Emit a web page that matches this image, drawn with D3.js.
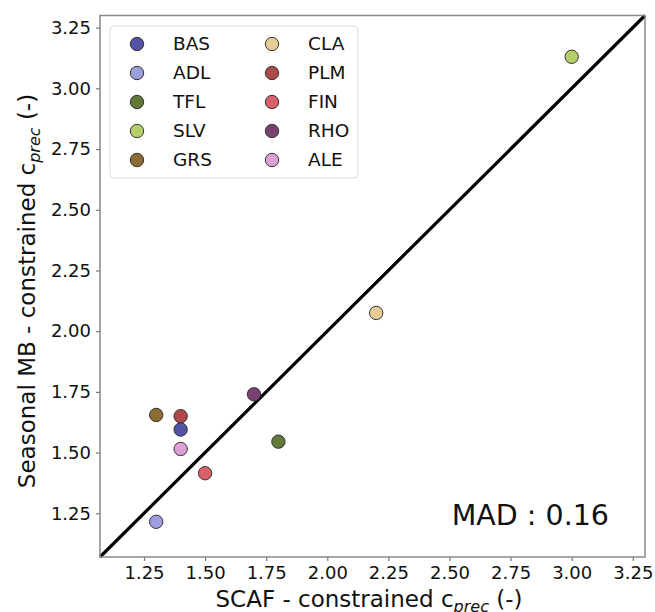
<!DOCTYPE html>
<html>
<head>
<meta charset="utf-8">
<script src="https://cdn.jsdelivr.net/npm/d3@7"></script>
<style>
  body { margin: 0; background: #fff; }
  svg { font-family: "DejaVu Sans", sans-serif; }
</style>
</head>
<body>
<svg id="chart" width="655" height="612"></svg>
<script>
const sites = ["BAS", "ADL", "TFL", "SLV", "GRS", "CLA", "PLM", "FIN", "RHO", "ALE"];
const scafValues = [1.40, 1.30, 1.80, 3.00, 1.30, 2.20, 1.40, 1.50, 1.70, 1.40];
const mbValues = [1.595, 1.215, 1.545, 3.13, 1.655, 2.075, 1.65, 1.415, 1.74, 1.515];
const siteColors = ["#5254a3", "#9c9ede", "#637939", "#b5cf6b", "#8c6d31",
                    "#e7cb94", "#ad494a", "#d6616b", "#7b4173", "#de9ed6"];
const tickValues = [1.25, 1.50, 1.75, 2.00, 2.25, 2.50, 2.75, 3.00, 3.25];
const domain = [1.07, 3.30];
const madText = "MAD : 0.16";

const margin = { top: 15.5, right: 10, bottom: 55, left: 100 };
const width = 655, height = 612;
const svg = d3.select("#chart");

const x = d3.scaleLinear().domain(domain).range([margin.left, width - margin.right]);
const y = d3.scaleLinear().domain(domain).range([height - margin.bottom, margin.top]);

// 1:1 line
svg.append("line")
  .attr("x1", x(domain[0])).attr("y1", y(domain[0]))
  .attr("x2", x(domain[1])).attr("y2", y(domain[1]))
  .attr("stroke", "#000").attr("stroke-width", 3.2);

// points
svg.append("g").selectAll("circle")
  .data(sites)
  .join("circle")
  .attr("cx", (d, i) => x(scafValues[i]))
  .attr("cy", (d, i) => y(mbValues[i]))
  .attr("r", 6.7)
  .attr("fill", (d, i) => siteColors[i])
  .attr("stroke", "#333")
  .attr("stroke-width", 1);

// axes
const xAxis = svg.append("g")
  .attr("transform", `translate(0, ${height - margin.bottom})`)
  .call(d3.axisBottom(x).tickValues(tickValues).tickFormat(d3.format(".2f")).tickSize(4).tickPadding(5));
const yAxis = svg.append("g")
  .attr("transform", `translate(${margin.left}, 0)`)
  .call(d3.axisLeft(y).tickValues(tickValues).tickFormat(d3.format(".2f")).tickSize(4).tickPadding(5));
[xAxis, yAxis].forEach(a => {
  a.select(".domain").remove();
  a.selectAll(".tick line").attr("stroke", "#777").attr("stroke-width", 1.2);
  a.selectAll(".tick text").attr("font-size", 18).attr("fill", "#111")
    .attr("font-family", "DejaVu Sans, sans-serif");
});

// frame
svg.append("rect")
  .attr("x", margin.left).attr("y", margin.top)
  .attr("width", width - margin.left - margin.right)
  .attr("height", height - margin.top - margin.bottom)
  .attr("fill", "none").attr("stroke", "#888").attr("stroke-width", 1.5);

// axis labels
const xl = svg.append("text")
  .attr("x", 369).attr("y", 607)
  .attr("text-anchor", "middle").attr("font-size", 23).attr("fill", "#111");
xl.append("tspan").text("SCAF - constrained c");
xl.append("tspan").attr("font-size", 16).attr("font-style", "italic").attr("dy", 5).text("prec");
xl.append("tspan").attr("dy", -5).text(" (-)");

const yl = svg.append("text")
  .attr("transform", `translate(35, 291) rotate(-90)`)
  .attr("text-anchor", "middle").attr("font-size", 23).attr("fill", "#111");
yl.append("tspan").text("Seasonal MB - constrained c");
yl.append("tspan").attr("font-size", 16).attr("font-style", "italic").attr("dy", 5).text("prec");
yl.append("tspan").attr("dy", -5).text(" (-)");

// MAD annotation
svg.append("text")
  .attr("x", 609).attr("y", 525)
  .attr("text-anchor", "end").attr("font-size", 28.5).attr("fill", "#111")
  .text(madText);

// legend
const legend = svg.append("g");
legend.append("rect")
  .attr("x", 110).attr("y", 26).attr("width", 248).attr("height", 152)
  .attr("rx", 4).attr("fill", "#fff").attr("fill-opacity", 0.8)
  .attr("stroke", "#ddd").attr("stroke-width", 1);
const items = legend.selectAll("g.item")
  .data(sites)
  .join("g")
  .attr("class", "item")
  .attr("transform", (d, i) => `translate(${i < 5 ? 137 : 272}, ${44 + (i % 5) * 29})`);
items.append("circle")
  .attr("r", 6.7)
  .attr("fill", (d, i) => siteColors[i])
  .attr("stroke", "#333").attr("stroke-width", 1);
items.append("text")
  .attr("x", 36).attr("dy", "0.35em")
  .attr("font-size", 18.5).attr("fill", "#111")
  .text(d => d);
</script>
</body>
</html>
